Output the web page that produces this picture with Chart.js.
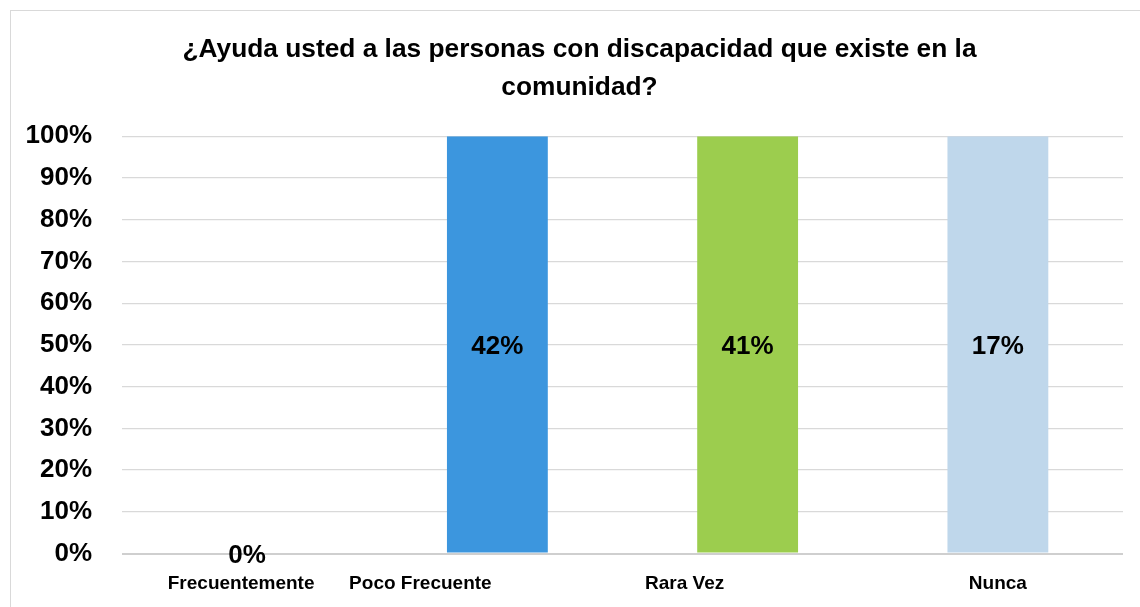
<!DOCTYPE html>
<html lang="es">
<head>
<meta charset="utf-8">
<title>Ayuda a personas con discapacidad</title>
<script src="https://cdn.jsdelivr.net/npm/chart.js@4.4.1/dist/chart.umd.min.js"></script>
<style>
    html, body { margin: 0; padding: 0; background: #fff; overflow: hidden; }
    #frame {
        position: absolute; left: 10px; top: 10px;
        width: 1140px; height: 597px;
        border-left: 1px solid #d9d9d9; border-top: 1px solid #d9d9d9;
    }
    #frame canvas { display: block; }
</style>
</head>
<body>
<div id="frame"><canvas id="helpChart" width="1139" height="596"></canvas></div>
<script>
// Chart data
const titleLines = ['¿Ayuda usted a las personas con discapacidad que existe en la', 'comunidad?'];
const categories = ['Frecuentemente', 'Poco Frecuente', 'Rara Vez', 'Nunca'];
const responses = [0, 42, 41, 17];           // % of answers, shown as labels
const barColors = ['#3c96de', '#3c96de', '#9ccd4e', '#bfd7eb'];

// 100% stacked: each answer is its own series, so a non-empty column fills its category
const columnShare = responses.map(v => (v > 0 ? (v / v) * 100 : 0));

// Category labels sit a bit off-centre in the original
const labelShift = [-6, -77, -63, 0];

const FONT = "'Liberation Sans Narrow', 'Arial Narrow', 'Liberation Sans', sans-serif";

// Draws the value labels in the middle of each column and the category names
const annotatePlugin = {
    id: 'annotate',
    afterLayout(chart) {
        // title is centred a little right of the canvas middle
        if (chart.titleBlock) {
            chart.titleBlock.left += 12.5;
            chart.titleBlock.right += 12.5;
        }
    },
    afterDatasetsDraw(chart) {
        const ctx = chart.ctx;
        const meta = chart.getDatasetMeta(0);
        ctx.save();
        ctx.fillStyle = '#000';
        ctx.textAlign = 'center';
        ctx.textBaseline = 'middle';
        ctx.font = `bold 26px ${FONT}`;
        meta.data.forEach((bar, i) => {
            const { x, y, base } = bar.getProps(['x', 'y', 'base'], true);
            ctx.fillText(responses[i] + '%', x, (y + base) / 2 + 2);
        });

        const xScale = chart.scales.x;
        ctx.font = `bold 19px ${FONT}`;
        categories.forEach((c, i) => {
            ctx.fillText(c, xScale.getPixelForValue(i) + labelShift[i], xScale.top + 30);
        });
        ctx.restore();
    }
};

new Chart(document.getElementById('helpChart'), {
    type: 'bar',
    data: {
        labels: categories,
        datasets: [{
            data: columnShare,
            backgroundColor: barColors,
            borderWidth: 0,
            categoryPercentage: 1,
            barPercentage: 0.403
        }]
    },
    options: {
        responsive: false,
        animation: false,
        layout: { padding: { left: 0, right: 27, top: 0, bottom: 0 } },
        plugins: {
            legend: { display: false },
            tooltip: { enabled: false },
            title: {
                display: true,
                text: titleLines,
                color: '#000',
                font: { family: FONT, size: 26.3, weight: 'bold', lineHeight: 1.47 },
                padding: { top: 19, bottom: 29 }
            }
        },
        scales: {
            y: {
                min: 0,
                max: 100,
                border: { display: false },
                grid: {
                    drawTicks: false,
                    color: ctx => (ctx.tick && ctx.tick.value === 0 ? '#cfcfcf' : '#d9d9d9'),
                    lineWidth: ctx => (ctx.tick && ctx.tick.value === 0 ? 2 : 1.3)
                },
                ticks: {
                    stepSize: 10,
                    padding: 30,
                    color: '#000',
                    font: { family: FONT, size: 26, weight: 'bold' },
                    callback: v => v + '%'
                },
                afterFit: s => { s.width = 111; }
            },
            x: {
                border: { display: false },
                grid: { display: false },
                ticks: { display: false },
                afterFit: s => { s.height = 53.5; }
            }
        }
    },
    plugins: [annotatePlugin]
});
</script>
</body>
</html>
